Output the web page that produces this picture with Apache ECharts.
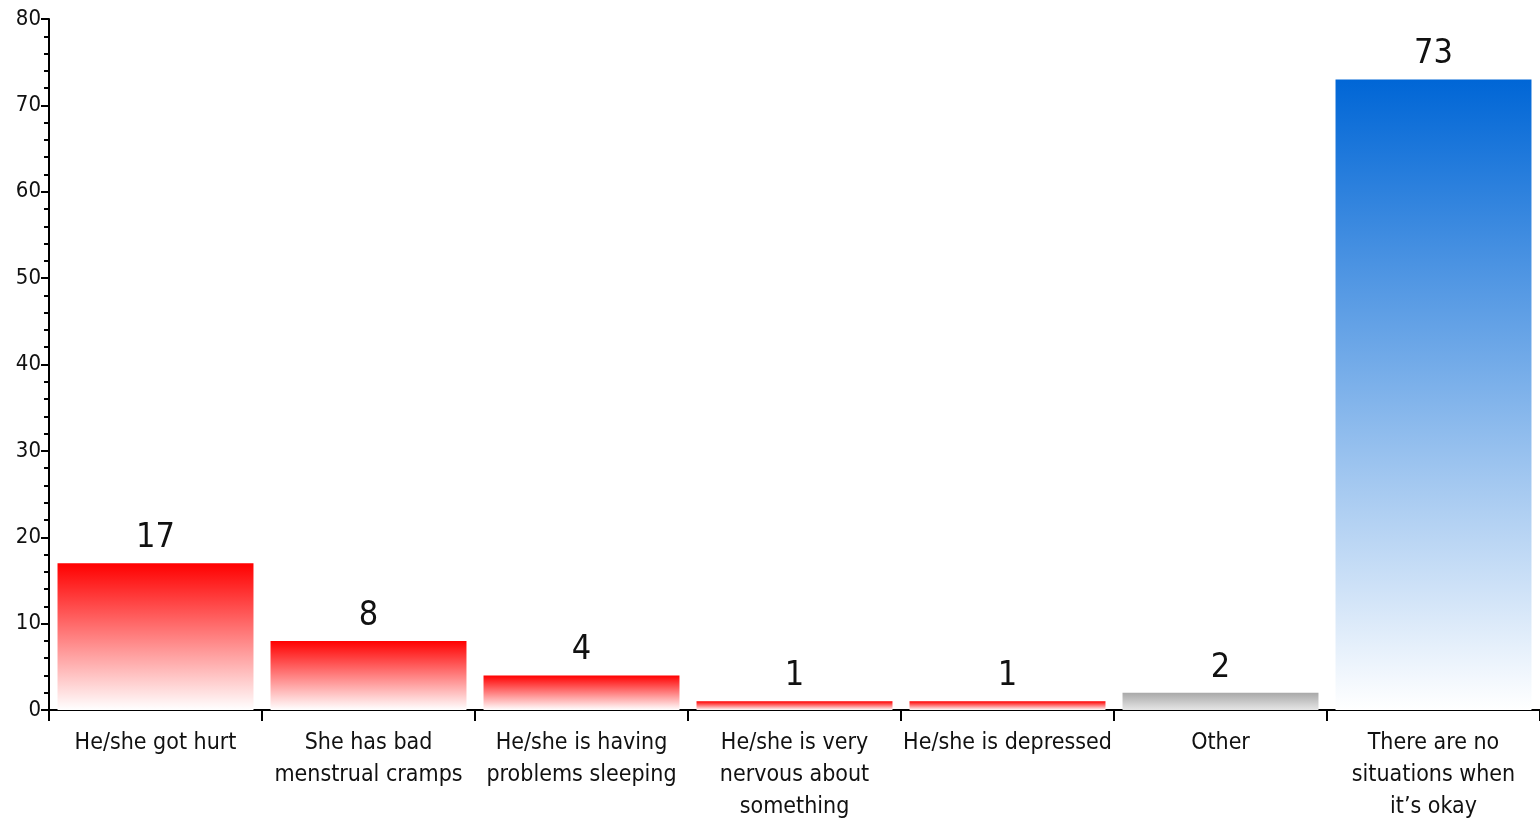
<!DOCTYPE html>
<html><head><meta charset="utf-8">
<script src="https://cdn.jsdelivr.net/npm/echarts@6/dist/echarts.min.js"></script>
<style>html,body{margin:0;padding:0;background:#fff}#c{width:1540px;height:823px}</style>
</head><body><div id="c"></div>
<script>
const categories = ["He/she got hurt","She has bad\nmenstrual cramps","He/she is having\nproblems sleeping","He/she is very\nnervous about\nsomething","He/she is depressed","Other","There are no\nsituations when\nit\u2019s okay"];
const values = [17, 8, 4, 1, 1, 2, 73];
const groups = ["red","red","red","red","red","gray","blue"];
const yTicks = {min: 0, max: 80, interval: 10};

const FONT = "'Liberation Sans Narrow','DejaVu Sans Condensed','Liberation Sans',sans-serif";
function grad(top, bottom){
  return new echarts.graphic.LinearGradient(0,0,0,1,[{offset:0,color:top},{offset:1,color:bottom}]);
}
const palette = {
  red: () => grad('#ff0000','#ffffff'),
  gray: () => grad('#a8a8a8','#e6e6e6'),
  blue: () => grad('#0066d6','#ffffff')
};
const chart = echarts.init(document.getElementById('c'));
chart.setOption({
  animation:false,
  grid:{left:49,top:19,right:0,bottom:110,containLabel:false},
  xAxis:{type:'category',data:categories,
    axisLine:{lineStyle:{color:'#000',width:2}},
    axisTick:{show:true,length:11,lineStyle:{color:'#000',width:2}},
    axisLabel:{interval:0,color:'#111',fontFamily:FONT,fontSize:23,lineHeight:32,margin:17}
  },
  yAxis:{type:'value',min:yTicks.min,max:yTicks.max,interval:yTicks.interval,
    splitLine:{show:false},
    axisLine:{show:true,lineStyle:{color:'#000',width:2}},
    axisTick:{show:true,inside:false,length:8,lineStyle:{color:'#000',width:2}},
    minorTick:{show:true,splitNumber:5,length:5,lineStyle:{color:'#000',width:2}},
    axisLabel:{color:'#111',fontFamily:FONT,fontSize:22,margin:8}
  },
  series:[{type:'bar',barCategoryGap:'8%',
    data:values.map((v,i)=>({value:v,itemStyle:{color:palette[groups[i]]()}})),
    label:{show:true,position:'top',distance:8,color:'#111',fontFamily:FONT,fontSize:34}
  }]
});
</script></body></html>
